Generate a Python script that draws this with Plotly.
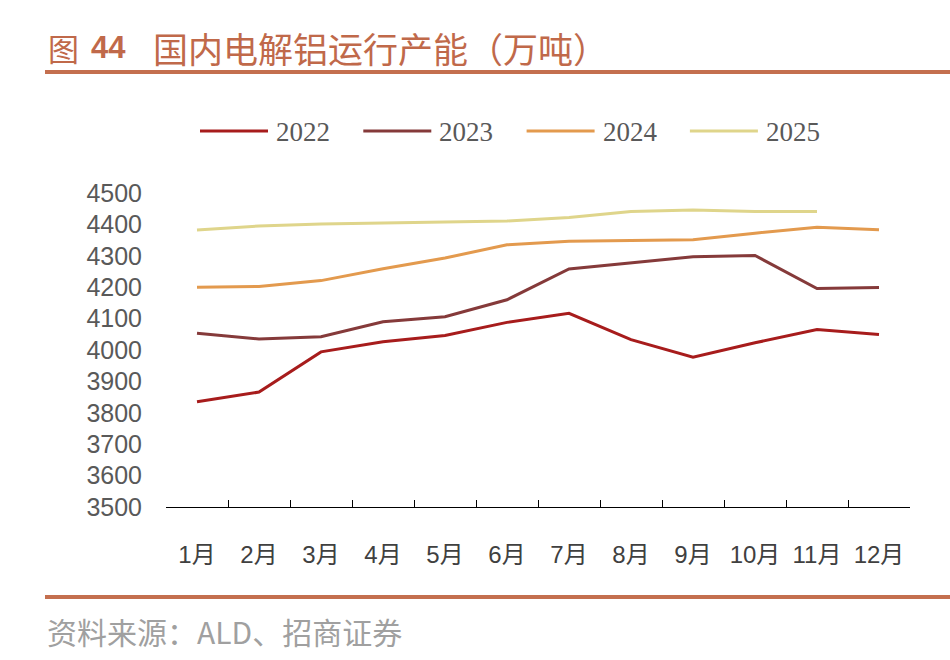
import plotly.graph_objects as go

months = ["1月", "2月", "3月", "4月", "5月", "6月", "7月", "8月", "9月", "10月", "11月", "12月"]
series_names = ["2022", "2023", "2024", "2025"]
y2022 = [3835, 3866, 3994, 4026, 4046, 4088, 4117, 4033, 3977, 4023, 4065, 4049]
y2023 = [4053, 4035, 4042, 4090, 4106, 4160, 4258, 4277, 4297, 4301, 4196, 4199]
y2024 = [4200, 4202, 4221, 4259, 4293, 4335, 4346, 4348, 4351, 4372, 4391, 4383]
y2025 = [4382, 4395, 4401, 4405, 4409, 4411, 4422, 4441, 4446, 4441, 4441, None]
colors = ["#A71C1C", "#853A3A", "#E39A4E", "#DFD58B"]
yticks = [3500, 3600, 3700, 3800, 3900, 4000, 4100, 4200, 4300, 4400, 4500]

W, H = 950, 660
L, R, T, B = 166, 910, 193, 507


def px(x):
    return (x - L) / (R - L)


def py(y):
    return (B - y) / (B - T)


fig = go.Figure()
for name, ys, c in zip(series_names, [y2022, y2023, y2024, y2025], colors):
    fig.add_trace(go.Scatter(x=months, y=ys, name=name, mode="lines",
                             line=dict(color=c, width=3), showlegend=False))

shapes = []
annotations = []
# custom legend
leg_x0 = 200
for i, (name, c) in enumerate(zip(series_names, colors)):
    x0 = leg_x0 + i * 163.3
    shapes.append(dict(type="line", xref="paper", yref="paper",
                       x0=px(x0), x1=px(x0 + 68), y0=py(131), y1=py(131),
                       line=dict(color=c, width=3)))
    annotations.append(dict(text=name, xref="paper", yref="paper",
                            x=px(x0 + 74), y=py(132), xanchor="left", yanchor="middle",
                            showarrow=False,
                            font=dict(family="Liberation Serif", size=27, color="#595959")))

# title rules
for yy, w in [(72, 4), (597, 4)]:
    shapes.append(dict(type="line", xref="paper", yref="paper",
                       x0=px(45), x1=px(950), y0=py(yy), y1=py(yy),
                       line=dict(color="#C46F4F", width=w)))

title_color = "#C0694A"
annotations.append(dict(text="图", xref="paper", yref="paper", x=px(46), y=py(47),
                        xanchor="left", yanchor="middle", showarrow=False,
                        font=dict(family="Noto Sans CJK SC", size=31, color=title_color)))
annotations.append(dict(text="<b>44</b>", xref="paper", yref="paper", x=px(89), y=py(47),
                        xanchor="left", yanchor="middle", showarrow=False,
                        font=dict(family="Liberation Sans", size=31, color=title_color)))
annotations.append(dict(text="国内电解铝运行产能（万吨）", xref="paper", yref="paper", x=px(151), y=py(47),
                        xanchor="left", yanchor="middle", showarrow=False,
                        font=dict(family="Noto Sans CJK SC", size=35, color=title_color)))
annotations.append(dict(text="资料来源：ALD、招商证券", xref="paper", yref="paper", x=px(45), y=py(631),
                        xanchor="left", yanchor="middle", showarrow=False,
                        font=dict(family="Noto Sans CJK SC", size=30, color="#A0A0A0")))

fig.update_layout(
    width=W, height=H,
    margin=dict(l=L, r=W - R, t=T, b=H - B, pad=0),
    paper_bgcolor="white", plot_bgcolor="white",
    shapes=shapes, annotations=annotations,
    showlegend=False,
)
fig.update_xaxes(
    type="category", range=[-0.5, 11.5], tickson="boundaries", ticks="inside", ticklen=7,
    tickcolor="black", tickwidth=1, showline=True, linecolor="black", linewidth=1,
    showgrid=False, zeroline=False, ticklabelstandoff=26,
    tickfont=dict(family="Liberation Sans, Noto Sans CJK SC", size=24, color="#404040"),
)
fig.update_yaxes(
    range=[3500, 4500], tickvals=yticks, showgrid=False, zeroline=False, showline=False,
    ticks="", ticklabelstandoff=23,
    tickfont=dict(family="Liberation Sans", size=25, color="#595959"),
)
fig.write_html("out.html")
